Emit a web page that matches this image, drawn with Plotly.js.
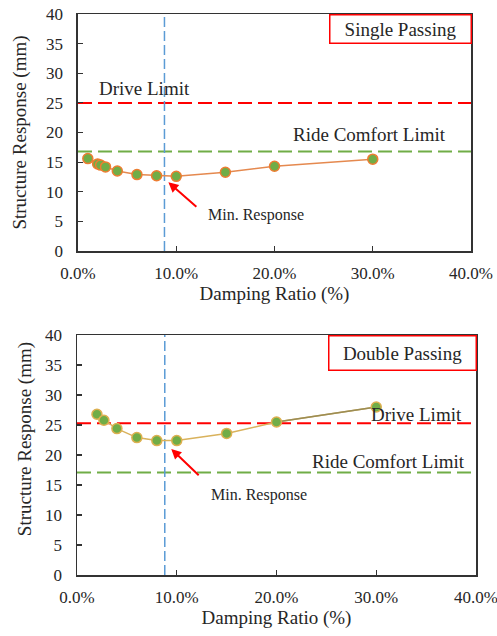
<!DOCTYPE html>
<html>
<head>
<meta charset="utf-8">
<script src="https://cdn.plot.ly/plotly-3.0.1.min.js"></script>
<style>html,body{margin:0;padding:0;background:#fff;}#chart{width:497px;height:636px;}</style>
</head>
<body>
<div id="chart"></div>
<script>
// ---- data ----
const singleDamping = [1, 2, 2.3, 2.8, 4, 6, 8, 10, 15, 20, 30];
const singleResponse = [15.6, 14.7, 14.5, 14.2, 13.5, 12.9, 12.7, 12.6, 13.3, 14.3, 15.5];
const doubleDamping = [2, 2.7, 4, 6, 8, 10, 15, 20, 30];
const doubleResponse = [26.8, 25.8, 24.4, 22.9, 22.4, 22.4, 23.6, 25.5, 28.0];
const limitSpan = [0, 40];
const singleDriveLimit = 25;
const singleComfortLimit = 16.8;
const doubleDriveLimit = 25.3;
const doubleComfortLimit = 17.1;
const optimalDamping = [8.8, 8.8];
const yExtent = [0, 40];
const xTicks = [0, 10, 20, 30, 40];
const yTicks = [0, 5, 10, 15, 20, 25, 30, 35, 40];

const FONT = 'Liberation Serif, Times New Roman, serif';
const TXT = '#262626';

function limitTrace(y, color, xa, ya) {
  return {x: limitSpan, y: [y, y], mode: 'lines', xaxis: xa, yaxis: ya,
    line: {color: color, width: 2, dash: '14px,6px'}, hoverinfo: 'skip', showlegend: false};
}
function vline(xa, ya) {
  return {x: optimalDamping, y: yExtent, mode: 'lines', xaxis: xa, yaxis: ya,
    line: {color: '#5B9BD5', width: 1.5, dash: '10px,4px'}, hoverinfo: 'skip', showlegend: false};
}

const traces = [
  limitTrace(singleDriveLimit, '#FF0000', 'x', 'y'),
  limitTrace(singleComfortLimit, '#70AD47', 'x', 'y'),
  vline('x', 'y'),
  {x: singleDamping, y: singleResponse, mode: 'lines+markers', xaxis: 'x', yaxis: 'y',
   line: {color: '#E5894F', width: 1.5},
   marker: {size: 10, color: '#70AD47', line: {color: '#ED7D31', width: 1.5}}, showlegend: false},

  limitTrace(doubleDriveLimit, '#FF0000', 'x2', 'y2'),
  limitTrace(doubleComfortLimit, '#70AD47', 'x2', 'y2'),
  vline('x2', 'y2'),
  {x: doubleDamping, y: doubleResponse, mode: 'lines', xaxis: 'x2', yaxis: 'y2',
   line: {color: '#D9B25C', width: 1.5}, showlegend: false, hoverinfo: 'skip'},
  {x: doubleDamping.slice(-2), y: doubleResponse.slice(-2), mode: 'lines', xaxis: 'x2', yaxis: 'y2',
   line: {color: '#9A8C55', width: 1.5}, showlegend: false, hoverinfo: 'skip'},
  {x: doubleDamping, y: doubleResponse, mode: 'markers', xaxis: 'x2', yaxis: 'y2',
   marker: {size: 10, color: '#70AD47', line: {color: '#DDB050', width: 1.5}}, showlegend: false}
];

function xAxis(domain, anchor) {
  return {domain: domain, anchor: anchor, range: [0, 40], tickvals: xTicks,
    ticktext: xTicks.map(v => v.toFixed(1) + '%'),
    ticks: 'inside', ticklen: 5, tickcolor: '#333', tickwidth: 1.2,
    showline: true, linecolor: '#333', linewidth: 1.5, mirror: true,
    showgrid: false, zeroline: false, ticklabelstandoff: 6, ticklabeloverflow: 'allow',
    tickfont: {family: FONT, size: 17, color: TXT},
    title: {text: 'Damping Ratio (%)', font: {family: FONT, size: 19, color: TXT}, standoff: 4}};
}
function yAxis(domain, anchor, withTitle) {
  const ax = {domain: domain, anchor: anchor, range: [0, 40], tickvals: yTicks,
    ticks: 'inside', ticklen: 5, tickcolor: '#333', tickwidth: 1.2,
    showline: true, linecolor: '#333', linewidth: 1.5, mirror: true,
    showgrid: false, zeroline: false, ticklabelstandoff: 10,
    tickfont: {family: FONT, size: 17, color: TXT}};
  if (withTitle) ax.title = {text: 'Structure Response (mm)', font: {family: FONT, size: 19, color: TXT}, standoff: 14};
  return ax;
}

function label(text, x, y, xr, yr, size) {
  return {text: text, x: x, y: y, xref: xr, yref: yr, showarrow: false,
    font: {family: FONT, size: size || 19, color: TXT}};
}
function arrow(x, y, ax, ay, xr, yr) {
  return {text: '', x: x, y: y, ax: ax, ay: ay, xref: xr, yref: yr, axref: xr, ayref: yr,
    showarrow: true, arrowhead: 2, arrowsize: 1, arrowwidth: 2, arrowcolor: '#FF0000'};
}
function box(text, x, y, xr, yr, w, h) {
  return {text: text, x: x, y: y, xref: xr, yref: yr, showarrow: false, width: w, height: h,
    bgcolor: '#fff', bordercolor: '#FF0000', borderwidth: 1.5, borderpad: 0,
    font: {family: FONT, size: 19, color: TXT}};
}

const layout = {
  width: 497, height: 636,
  margin: {l: 77, r: 21, t: 14, b: 61},
  paper_bgcolor: '#fff', plot_bgcolor: '#fff',
  showlegend: false,
  xaxis: xAxis([0.0025, 0.9875], 'y'),
  yaxis: yAxis([0.5775, 1], 'x', true),
  xaxis2: xAxis([0, 1], 'y2'),
  yaxis2: yAxis([0, 0.4278], 'x2', false),
  annotations: [
    label('Drive Limit', 6.8, 27.5, 'x', 'y'),
    label('Ride Comfort Limit', 29.7, 19.7, 'x', 'y'),
    label('Min. Response', 18.1, 6.1, 'x', 'y', 16),
    arrow(9.2, 11.6, 12.2, 7.25, 'x', 'y'),
    box('Single Passing', 32.85, 37.5, 'x', 'y', 140, 27),

    label('Drive Limit', 34.05, 26.7, 'x2', 'y2'),
    label('Ride Comfort Limit', 31.24, 18.85, 'x2', 'y2'),
    label('Min. Response', 18.2, 13.36, 'x2', 'y2', 16),
    arrow(9.45, 21.0, 12.35, 16.4, 'x2', 'y2'),
    box('Double Passing', 32.6, 37.06, 'x2', 'y2', 146, 33),
    {text: 'Structure Response (mm)', textangle: -90, xref: 'paper', yref: 'paper',
     x: -0.13, y: 0.2424, xanchor: 'center', yanchor: 'middle', showarrow: false,
     font: {family: FONT, size: 19, color: TXT}}
  ]
};

Plotly.newPlot('chart', traces, layout, {displayModeBar: false, staticPlot: true});
</script>
</body>
</html>
